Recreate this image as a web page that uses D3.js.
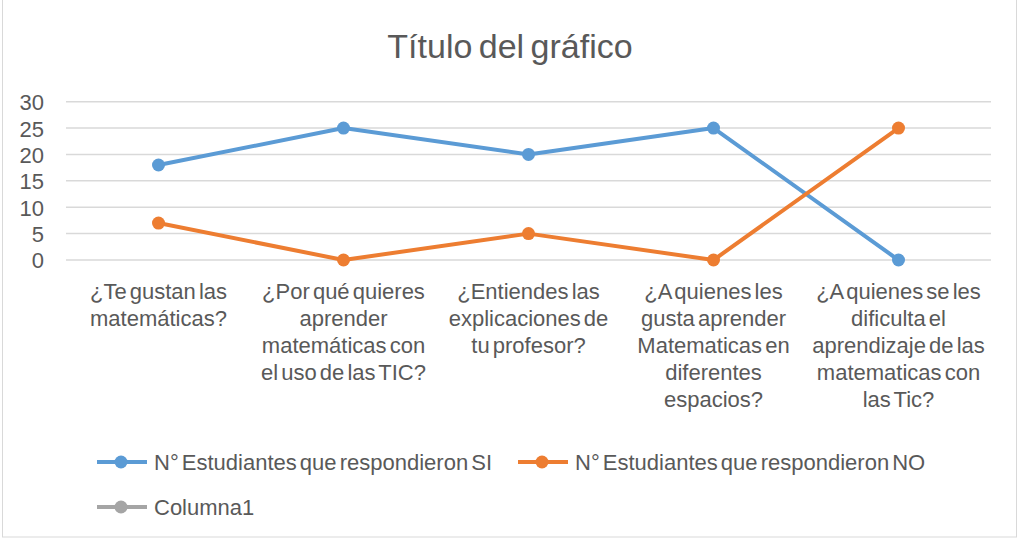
<!DOCTYPE html>
<html><head><meta charset="utf-8">
<script src="https://cdn.jsdelivr.net/npm/d3@7"></script>
<style>
html,body{margin:0;padding:0;background:#fff;}
text{font-family:"Liberation Sans",Arial,sans-serif;fill:#595959;}
</style></head>
<body><svg id="c" width="1020" height="539"></svg>
<script>
const title = "Título del gráfico";
const categories = [
  ["¿Te gustan las", "matemáticas?"],
  ["¿Por qué quieres", "aprender", "matemáticas con", "el uso de las TIC?"],
  ["¿Entiendes las", "explicaciones de", "tu profesor?"],
  ["¿A quienes les", "gusta aprender", "Matematicas en", "diferentes", "espacios?"],
  ["¿A quienes se les", "dificulta el", "aprendizaje de las", "matematicas  con", "las Tic?"]
];
const seriesNames = ["N° Estudiantes que respondieron SI", "N° Estudiantes que respondieron NO", "Columna1"];
const seriesSI = [18, 25, 20, 25, 0];
const seriesNO = [7, 0, 5, 0, 25];
const seriesCol1 = [];
const yTicks = [0, 5, 10, 15, 20, 25, 30];
const colors = ["#5b9bd5", "#ed7d31", "#a5a5a5"];

const svg = d3.select("#c");
svg.append("rect").attr("x",2.5).attr("y",-1).attr("width",1014).attr("height",538)
  .attr("fill","#fff").attr("stroke","#d9d9d9").attr("stroke-width",1);

svg.append("text").attr("x",510).attr("y",58).attr("text-anchor","middle")
  .style("font-size","34px").style("word-spacing","-3px").text(title);

const idx = categories.map((d,i)=>i);
const x = d3.scaleBand().domain(idx).range([66, 991]);
const y = d3.scaleLinear().domain([0,30]).range([260, 101.7]);

// gridlines
svg.append("g").selectAll("line").data(yTicks).join("line")
  .attr("x1",66).attr("x2",991).attr("y1",d=>y(d)).attr("y2",d=>y(d))
  .attr("stroke","#d9d9d9").attr("stroke-width",1.5);

// y axis labels
const yAxis = d3.axisLeft(y).tickValues(yTicks).tickSize(0).tickPadding(0);
const ga = svg.append("g").attr("transform","translate(44,0)").call(yAxis);
ga.select(".domain").remove();
ga.selectAll("text").style("font-size","22px").style("fill","#595959")
  .style("font-family","Liberation Sans, Arial, sans-serif").attr("dy","0.36em");

// category labels
const cx = i => x(i) + x.bandwidth()/2;
const cl = svg.append("g");
categories.forEach((lines,i)=>{
  const t = cl.append("text").attr("text-anchor","middle").style("font-size","22px").style("word-spacing","-3px");
  lines.forEach((ln,j)=>{
    t.append("tspan").attr("x",cx(i)).attr("y",299 + j*27).text(ln);
  });
});

// lines
const line = d3.line().x((d,i)=>cx(i)).y(d=>y(d));
[seriesSI, seriesNO, seriesCol1].forEach((s,k)=>{
  if(!s.length) return;
  svg.append("path").datum(s).attr("d",line).attr("fill","none")
    .attr("stroke",colors[k]).attr("stroke-width",4).attr("stroke-linejoin","round");
  svg.append("g").selectAll("circle").data(s).join("circle")
    .attr("cx",(d,i)=>cx(i)).attr("cy",d=>y(d)).attr("r",6.5).attr("fill",colors[k]);
});

// legend
const legendPos = [[97,462],[518,462],[97,507]];
seriesNames.forEach((n,k)=>{
  const [lx,ly] = legendPos[k];
  const g = svg.append("g");
  g.append("line").attr("x1",lx).attr("x2",lx+50).attr("y1",ly).attr("y2",ly)
    .attr("stroke",colors[k]).attr("stroke-width",4);
  g.append("circle").attr("cx",lx+24).attr("cy",ly).attr("r",6.5).attr("fill",colors[k]);
  g.append("text").attr("x",lx+57).attr("y",ly).attr("dy","0.36em")
    .style("font-size","22px").style("word-spacing","-3px").text(n);
});
</script></body></html>
